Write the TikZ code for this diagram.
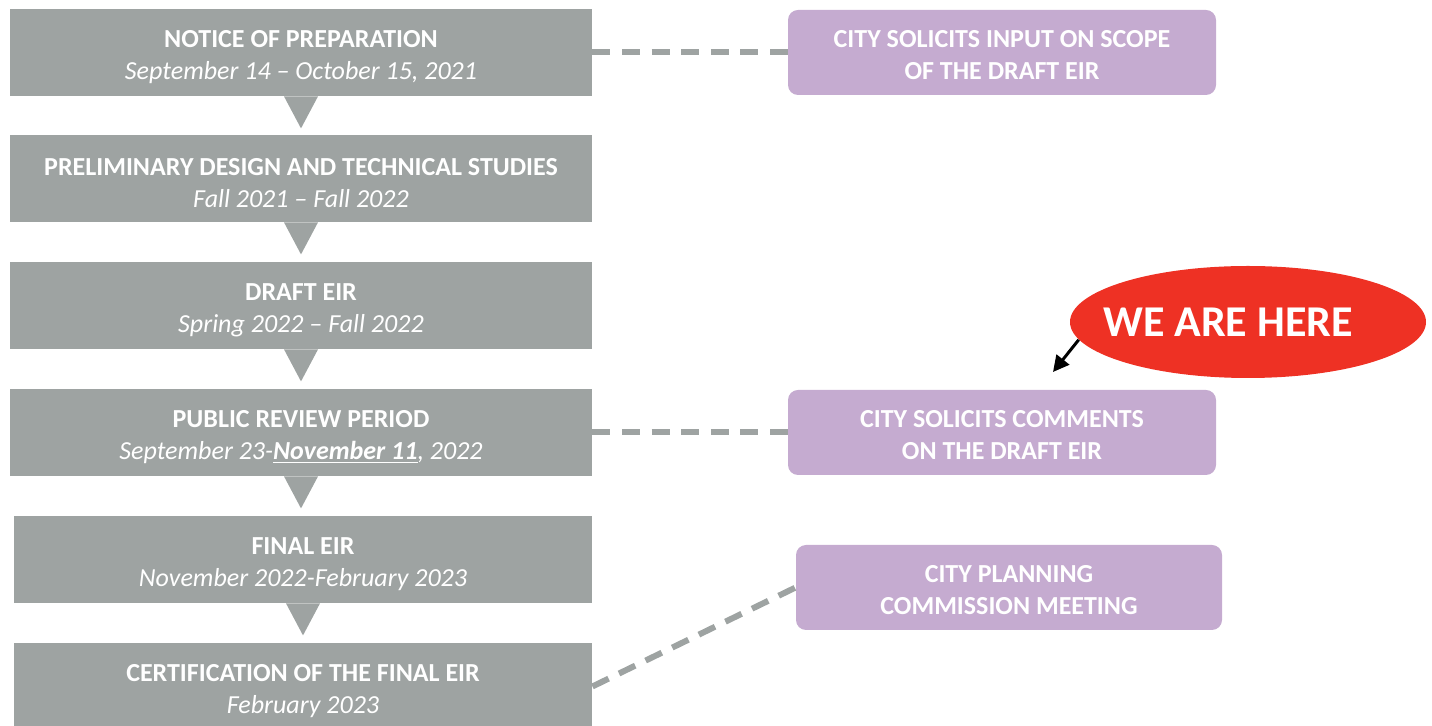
\documentclass[tikz,border=0pt]{standalone}
\usepackage{fontspec}
\setmainfont{Carlito}
\usetikzlibrary{shapes.geometric,arrows.meta}
\definecolor{stagegray}{HTML}{9EA3A2}
\definecolor{notepurple}{HTML}{C5ABD0}
\definecolor{herered}{HTML}{EE3124}
\newcommand{\stagetext}[2]{\rule{0pt}{13.5pt}\textbf{#1}\\\textit{#2}}
\newcommand{\notetext}[2]{\rule{0pt}{11.5pt}#1\\#2}

\begin{document}
\begin{tikzpicture}[x=0.5pt,y=-0.5pt,
  stage node/.style={fill=stagegray,text=white,minimum width=291pt,minimum height=43.5pt,
    inner sep=0pt,align=center,font=\fontsize{13}{16}\selectfont},
  note node/.style={fill=notepurple,text=white,rounded corners=5pt,minimum width=214pt,
    minimum height=42.5pt,inner sep=0pt,align=center,font=\fontsize{13}{16}\selectfont\bfseries},
  link/.style={draw=stagegray,line width=3pt,dash pattern=on 9pt off 5.8pt}]

  \clip (0,0) rectangle (1432,726);

  % timeline on the left
  \node[stage node] (1) at (301,52.5) {\stagetext{NOTICE OF PREPARATION}{September 14 – October 15, 2021}};
  \node[stage node] (2) at (301,178.5) {\stagetext{PRELIMINARY DESIGN AND TECHNICAL STUDIES}{Fall 2021 – Fall 2022}};
  \node[stage node] (3) at (301,305.5) {\stagetext{DRAFT EIR}{Spring 2022 – Fall 2022}};
  \node[stage node] (4) at (301,432.5) {\stagetext{PUBLIC REVIEW PERIOD}{September 23-\underline{\textbf{November 11}}, 2022}};
  \node[stage node,minimum width=289pt] (5) at (303,559.5) {\stagetext{FINAL EIR}{November 2022-February 2023}};
  \node[stage node,minimum width=289pt] (6) at (303,686.5) {\stagetext{CERTIFICATION OF THE FINAL EIR}{February 2023}};

  \foreach \n in {1,...,5}
    \fill[stagegray] (\n.south) ++(-17,0) -- ++(34,0) -- ++(-17,32) -- cycle;

  % city notes on the right
  \node[note node] (a) at (1002,52.5) {\notetext{CITY SOLICITS INPUT ON SCOPE}{OF THE DRAFT EIR}};
  \node[note node] (b) at (1002,432.5) {\notetext{CITY SOLICITS COMMENTS}{ON THE DRAFT EIR}};
  \node[note node,minimum width=213pt] (c) at (1009,587.5) {\notetext{CITY PLANNING}{COMMISSION MEETING}};

  \path[link]
   (1) edge (a)
   (4) edge (b)
   (6.east) edge (c.west);

  % marker
  \node[ellipse,fill=herered,inner sep=0pt,minimum width=178pt,minimum height=56pt,
    label={[text=white,font=\fontsize{22}{26}\selectfont\bfseries,xshift=-10pt]center:WE ARE HERE}]
    (here) at (1248,322) {};
  \coordinate (tip) at (1053,372);
  \draw[line width=1.5pt,-{Triangle[length=8pt,width=8pt]}] (here.186) -- (tip);
\end{tikzpicture}
\end{document}
